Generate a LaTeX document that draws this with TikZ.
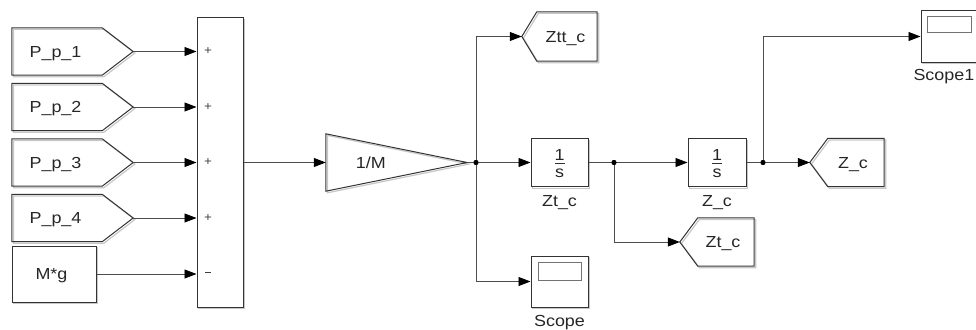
\documentclass[tikz,border=0pt]{standalone}
\usepackage{fontspec}
\setmainfont{Liberation Sans}[FakeStretch=1.12]
\usetikzlibrary{arrows.meta,calc}
\tikzset{
  holder/.style={draw=none, inner sep=0pt, minimum width=#1},
  outl/.style={draw=black!80, line width=1pt, line join=miter,
    preaction={draw=black!22, line width=1.2pt, transform canvas={shift={(1.6pt,-1.6pt)}}}},
  blk/.style={outl, fill=white, inner sep=0pt},
  wire/.style={draw=black!70, line width=0.8pt},
  arr/.style={wire, -{Triangle[length=12pt,width=9pt,fill=black,color=black]}},
  jdot/.style={circle, fill=black, inner sep=0pt, minimum size=5pt},
  txt/.style={font=\fontsize{16}{16}\selectfont, text=black!85, inner sep=0pt, anchor=base},
  sgn/.style={font=\fontsize{12}{12}\selectfont, text=black!75, inner sep=0pt},
  scr/.style={draw=black!55, line width=0.9pt}
}
\begin{document}
\begin{tikzpicture}[x=1pt,y=-1pt]
\useasboundingbox (0,0) rectangle (976,329);

% ---- input "From" blocks (pointing right)
\foreach \n/\yy/\t in {p1/51.5/P\_p\_1, p2/107/P\_p\_2, p3/162.5/P\_p\_3, p4/218/P\_p\_4}{
  \node[holder=121pt, minimum height=47pt] (\n) at (72.5,\yy) {};
  \draw[outl] (\n.north west) -- ($(\n.north east)+(-31,0)$) -- (\n.east)
     -- ($(\n.south east)+(-31,0)$) -- (\n.south west) -- cycle;
  \node[txt] (\n t) at ($(\n.center)+(-17,5.8)$) {\t};
}
\node[blk, minimum width=84pt, minimum height=56pt] (mg) at (54,274) {};
\node[txt] (mgt) at ($(mg.center)+(-2.5,5.8)$) {M*g};

% ---- sum block
\node[blk, minimum width=46pt, minimum height=289pt] (sum) at (220,162.5) {};
\foreach \yy in {51.5,107,162.5,218}{
  \node[sgn] at (208,\yy) {+};
}
\node[sgn] (minus) at (208,274) {\rule[3pt]{6pt}{0.7pt}};

% ---- gain
\node[holder=141pt, minimum height=57pt] (gain) at (396.5,162.5) {};
\draw[outl] (gain.north west) -- (gain.east) -- (gain.south west) -- cycle;
\node[txt] (gaint) at ($(gain.west)+(45,5.8)$) {1/M};

% ---- junction 1 and its targets
\node[jdot] (j1) at (476,162.5) {};

\node[holder=75pt, minimum height=49pt] (ztt) at (559.5,36.5) {};
\draw[outl] (ztt.west) -- ($(ztt.north west)+(15,0)$) -- (ztt.north east)
   -- (ztt.south east) -- ($(ztt.south west)+(15,0)$) -- cycle;
\node[txt] (zttt) at ($(ztt.center)+(6,5.8)$) {Ztt\_c};

\node[blk, minimum width=57pt, minimum height=48pt] (int1) at (559.5,162.5) {};
\node[txt, anchor=center] (int1n) at ($(int1.center)+(0,-8)$) {1};
\draw[black!80, line width=0.8pt] ($(int1.center)+(-5,1)$) -- ($(int1.center)+(5,1)$);
\node[txt, anchor=center] (int1d) at ($(int1.center)+(0,10.5)$) {s};
\node[txt] (int1l) at (559.5,206) {Zt\_c};

\node[blk, minimum width=57pt, minimum height=51pt] (scope) at (559.5,281.5) {};
\draw[scr] ($(scope.north west)+(8,7)$) rectangle ($(scope.north east)+(-7,25)$);
\node[txt] (scopel) at (559.5,326) {Scope};

% ---- junction 2
\node[jdot] (j2) at (614,162.5) {};
\node[holder=74pt, minimum height=48pt] (ztg) at (717,242) {};
\draw[outl] (ztg.west) -- ($(ztg.north west)+(18,0)$) -- (ztg.north east)
   -- (ztg.south east) -- ($(ztg.south west)+(18,0)$) -- cycle;
\node[txt] (ztgt) at ($(ztg.center)+(6,5.8)$) {Zt\_c};

\node[blk, minimum width=58pt, minimum height=48pt] (int2) at (717,162.5) {};
\node[txt, anchor=center] (int2n) at ($(int2.center)+(0,-8)$) {1};
\draw[black!80, line width=0.8pt] ($(int2.center)+(-5,1)$) -- ($(int2.center)+(5,1)$);
\node[txt, anchor=center] (int2d) at ($(int2.center)+(0,10.5)$) {s};
\node[txt] (int2l) at (717,206) {Z\_c};

% ---- junction 3
\node[jdot] (j3) at (763,162.5) {};
\node[holder=74pt, minimum height=48pt] (zcg) at (847,162.5) {};
\draw[outl] (zcg.west) -- ($(zcg.north west)+(18,0)$) -- (zcg.north east)
   -- (zcg.south east) -- ($(zcg.south west)+(18,0)$) -- cycle;
\node[txt] (zcgt) at ($(zcg.center)+(6,5.8)$) {Z\_c};

\node[blk, minimum width=57pt, minimum height=51pt] (scope1) at (949.5,36.5) {};
\draw[scr] ($(scope1.north west)+(7,6)$) rectangle ($(scope1.north east)+(-7,22)$);
\node[txt, anchor=base east] (scope1l) at (974.5,80) {Scope1};

% ---- connectors
\foreach \n in {p1,p2,p3,p4,mg}{
  \draw[arr] (\n.east) -- (\n.east -| sum.west);
}
\draw[arr] (sum.east) -- (gain.west);
\draw[wire] (gain.east) -- (j1.center);
\draw[arr] (j1.center) |- (ztt.west);
\draw[arr] (j1.center) -- (int1.west);
\draw[arr] (j1.center) |- (scope.west);
\draw[wire] (int1.east) -- (j2.center);
\draw[arr] (j2.center) -- (int2.west);
\draw[arr] (j2.center) |- (ztg.west);
\draw[wire] (int2.east) -- (j3.center);
\draw[arr] (j3.center) -- (zcg.west);
\draw[arr] (j3.center) |- (scope1.west);
\node[jdot] at (j1) {};
\node[jdot] at (j2) {};
\node[jdot] at (j3) {};
\end{tikzpicture}
\end{document}
